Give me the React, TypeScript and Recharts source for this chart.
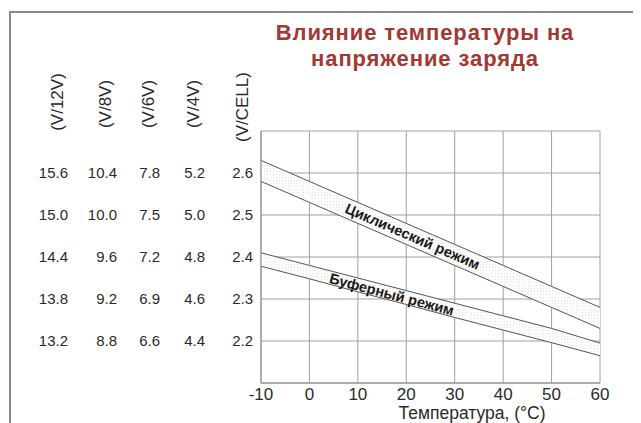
import React from 'react';
import { ComposedChart, Area, Line, XAxis, YAxis, CartesianGrid, ReferenceDot, Label } from 'recharts';

const temps = [-10, 0, 10, 20, 30, 40, 50, 60];
const cyclicHigh = [2.63, 2.58, 2.53, 2.48, 2.43, 2.38, 2.33, 2.28];
const cyclicLow = [2.58, 2.53, 2.48, 2.43, 2.38, 2.33, 2.28, 2.23];
const floatHigh = [2.41, 2.38, 2.35, 2.32, 2.29, 2.26, 2.23, 2.195];
const floatLow = [2.378, 2.348, 2.317, 2.287, 2.256, 2.226, 2.196, 2.165];

const cellTicks = [2.2, 2.3, 2.4, 2.5, 2.6];
const labels12V = ['13.2', '13.8', '14.4', '15.0', '15.6'];
const labels8V = ['8.8', '9.2', '9.6', '10.0', '10.4'];
const labels6V = ['6.6', '6.9', '7.2', '7.5', '7.8'];
const labels4V = ['4.4', '4.6', '4.8', '5.0', '5.2'];
const labelsCell = ['2.2', '2.3', '2.4', '2.5', '2.6'];
const headers = ['(V/12V)', '(V/8V)', '(V/6V)', '(V/4V)', '(V/CELL)'];

const data = temps.map((t, i) => ({
    t,
    cyc: [cyclicLow[i], cyclicHigh[i]],
    cycHigh: cyclicHigh[i],
    cycLow: cyclicLow[i],
    buf: [floatLow[i], floatHigh[i]],
    bufHigh: floatHigh[i],
    bufLow: floatLow[i],
}));

const FONT = '"Liberation Sans", Arial, sans-serif';
const columns = [labels12V, labels8V, labels6V, labels4V, labelsCell];
const colRight = [60, 109, 152, 197, 245];
const headerX = [49, 97, 140, 185, 234];
const headerY = [94, 96, 96, 96, 99];

const YTick = (props: any) => {
    const { y, payload } = props;
    const idx = cellTicks.indexOf(payload.value);
    if (idx < 0) {
        return (
            <g>
                {headers.map((h, i) => (
                    <text key={h} x={headerX[i]} y={headerY[i]} textAnchor="middle" dy="0.35em"
                        transform={`rotate(-90, ${headerX[i]}, ${headerY[i]})`}
                        fontSize={17} fontFamily={FONT} fill="#2a2a2a">{h}</text>
                ))}
            </g>
        );
    }
    return (
        <g>
            {columns.map((col, i) => (
                <text key={i} x={colRight[i]} y={y} dy="0.35em" textAnchor="end"
                    fontSize={15} fontFamily={FONT} fill="#2a2a2a">{col[idx]}</text>
            ))}
        </g>
    );
};

const bandText = (text: string, angle: number) => (props: any) => {
    const { cx, cy } = props;
    return (
        <text x={cx} y={cy} dy="0.35em" textAnchor="middle" transform={`rotate(${angle}, ${cx}, ${cy})`}
            fontSize={14.5} fontWeight="bold" fontFamily={FONT} fill="#1a1a1a">{text}</text>
    );
};

const App: React.FC = () => {
    return (
        <div style={{ position: 'relative', width: 633, height: 415 }}>
            <div style={{ position: 'absolute', left: 1, top: 3, width: 640, height: 420, borderTop: '2px solid #8a8a8a', borderLeft: '2px solid #8a8a8a' }} />
            <div style={{ position: 'absolute', left: 217, top: 12, width: 400, textAlign: 'center', fontFamily: FONT, fontWeight: 'bold', fontSize: 22, lineHeight: '26px', letterSpacing: 0.9, color: '#a33833' }}>
                Влияние температуры на<br />напряжение заряда
            </div>
            <ComposedChart width={633} height={415} data={data} margin={{ top: 123, right: 41, left: 0, bottom: 10 }}>
                <defs>
                    <pattern id="dots" width={3} height={3} patternUnits="userSpaceOnUse">
                        <rect width={3} height={3} fill="#fdfdfd" />
                        <circle cx={1.5} cy={1.5} r={0.5} fill="#e0e0e0" />
                    </pattern>
                </defs>
                <CartesianGrid stroke="#a0a0a0" strokeWidth={1} />
                <XAxis dataKey="t" type="number" domain={[-10, 60]} ticks={temps} height={30}
                    axisLine={{ stroke: '#8a8a8a' }} tickLine={false} tickSize={0} tickMargin={5}
                    tick={{ fontSize: 17, fill: '#2a2a2a', fontFamily: FONT }}>
                    <Label content={({ viewBox }: any) => (
                        <text x={viewBox.x + 211} y={viewBox.y + 36} textAnchor="middle" fontSize={17.5}
                            fontFamily={FONT} fill="#2a2a2a">Температура, (°C)</text>
                    )} />
                </XAxis>
                <YAxis type="number" domain={[2.1, 2.7]} ticks={[...cellTicks, 2.7]} width={253}
                    axisLine={{ stroke: '#8a8a8a' }} tickLine={false} tick={<YTick />} interval={0} />
                <Area dataKey="cyc" stroke="none" fill="url(#dots)" fillOpacity={1} isAnimationActive={false} />
                <Area dataKey="buf" stroke="none" fill="url(#dots)" fillOpacity={1} isAnimationActive={false} />
                <Line dataKey="cycHigh" stroke="#555" strokeWidth={1} dot={false} isAnimationActive={false} />
                <Line dataKey="cycLow" stroke="#555" strokeWidth={1} dot={false} isAnimationActive={false} />
                <Line dataKey="bufHigh" stroke="#555" strokeWidth={1} dot={false} isAnimationActive={false} />
                <Line dataKey="bufLow" stroke="#555" strokeWidth={1} dot={false} isAnimationActive={false} />
                <ReferenceDot x={21.3} y={2.449} r={0} shape={bandText('Циклический режим', 23.4)} />
                <ReferenceDot x={17} y={2.311} r={0} shape={bandText('Буферный режим', 14.9)} />
            </ComposedChart>
        </div>
    );
};

export default App;
